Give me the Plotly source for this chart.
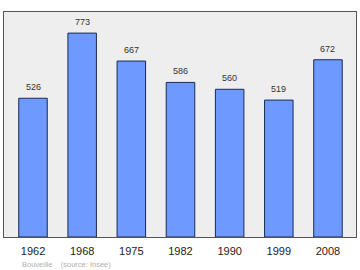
import plotly.graph_objects as go

years = ["1962", "1968", "1975", "1982", "1990", "1999", "2008"]
population = [526, 773, 667, 586, 560, 519, 672]
footer = "Bouveille&nbsp;&nbsp;&nbsp;&nbsp;(source: Insee)"

xpos = list(range(len(years)))
font = "Liberation Sans, Arial, sans-serif"

fig = go.Figure()
fig.add_trace(go.Bar(
    x=xpos, y=population, width=0.58,
    marker=dict(color="#6e99ff", line=dict(color="#1a2a55", width=1)),
    hoverinfo="skip",
))
for xi, v in zip(xpos, population):
    fig.add_annotation(x=xi, y=v, text=str(v), showarrow=False,
                       yanchor="bottom", yshift=4,
                       font=dict(family=font, size=9, color="#333"))
fig.add_annotation(x=(20 - 4) / 352, y=(237 - 264) / 225, xref="paper", yref="paper",
                   xanchor="left", yanchor="middle", showarrow=False,
                   text=footer, font=dict(family=font, size=7.5, color="#b0b0b0"))

fig.update_layout(
    width=360, height=270,
    margin=dict(l=4, r=4, t=12, b=33),
    paper_bgcolor="white", plot_bgcolor="#eeeeee",
    showlegend=False,
    xaxis=dict(range=[-0.59, 6.57], tickvals=xpos, ticktext=years,
               showgrid=False, zeroline=False, showline=True, mirror=True,
               linecolor="#555", linewidth=1, ticks="outside", ticklen=4,
               tickcolor="rgba(0,0,0,0)", fixedrange=True,
               tickfont=dict(family=font, size=11, color="#222")),
    yaxis=dict(range=[0, 853], showgrid=False, zeroline=False, showticklabels=False,
               showline=True, mirror=True, linecolor="#555", linewidth=1, fixedrange=True),
)
fig.write_html("out.html")
